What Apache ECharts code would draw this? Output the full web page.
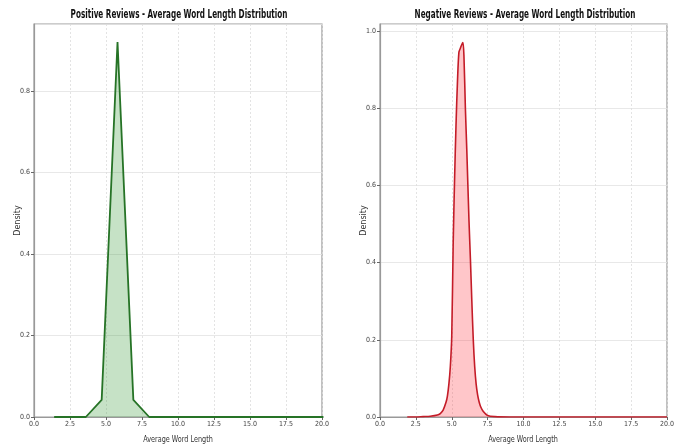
<!DOCTYPE html>
<html>
<head>
<meta charset="utf-8">
<script src="https://cdn.jsdelivr.net/npm/echarts@6/dist/echarts.min.js"></script>
<style>
  html, body { margin: 0; padding: 0; background: #fff; }
  #chart { width: 683px; height: 448px; }
</style>
</head>
<body>
<div id="chart"></div>
<script>
// data
const xTicks = [0, 2.5, 5, 7.5, 10, 12.5, 15, 17.5, 20]

const positiveX = [1.4, 2.5, 3.6, 4.7, 5.8, 6.9, 8.0, 9.1, 10.2, 11.3, 12.4, 13.5, 14.6, 15.7, 16.8, 17.9, 19.0, 20.1]
const positiveY = [0, 0, 0, 0.042, 0.92, 0.042, 0, 0, 0, 0, 0, 0, 0, 0, 0, 0, 0, 0]

const negativeX = [1.9, 2.5, 3.0, 3.5, 4.0, 4.2, 4.4, 4.6, 4.7, 4.8, 4.9, 5.0, 5.1, 5.2, 5.3, 5.4, 5.5, 5.6, 5.7, 5.78, 5.85, 5.95, 6.05, 6.2, 6.3, 6.4, 6.5, 6.6, 6.7, 6.8, 6.9, 7.0, 7.2, 7.5, 8.0, 9.0, 12.0, 16.0, 20.0]
const negativeY = [0, 0, 0.001, 0.002, 0.005, 0.009, 0.018, 0.038, 0.055, 0.085, 0.13, 0.21, 0.45, 0.62, 0.76, 0.87, 0.945, 0.955, 0.965, 0.97, 0.935, 0.8, 0.69, 0.51, 0.41, 0.3, 0.2, 0.13, 0.085, 0.058, 0.04, 0.028, 0.014, 0.004, 0.001, 0, 0, 0, 0]

const pair = (xs, ys) => xs.map((x, i) => [x, ys[i]])

const chart = echarts.init(document.getElementById('chart'))

const labelFont = { fontSize: 7, color: '#444', fontFamily: 'DejaVu Sans Condensed, DejaVu Sans' }
const gridLine = { show: true, lineStyle: { color: '#dcdcdc', type: [2, 2], width: 0.8 } }

const xAxisOf = (gridIndex) => ({
  type: 'value',
  gridIndex,
  min: 0,
  max: 20,
  interval: 2.5,
  axisLine: { show: true, onZero: false, lineStyle: { color: '#999', width: 1.2 } },
  axisTick: { show: true, length: 3, lineStyle: { color: '#666' } },
  axisLabel: { ...labelFont, margin: 4, formatter: (v) => v.toFixed(1) },
  splitLine: gridLine
})

const yAxisOf = (gridIndex, max) => ({
  type: 'value',
  gridIndex,
  min: 0,
  max,
  interval: 0.2,
  name: 'Density',
  nameLocation: 'middle',
  nameGap: 12,
  nameRotate: 90,
  nameMoveOverlap: false,
  nameTextStyle: { fontSize: 8, color: '#333', fontFamily: 'DejaVu Sans' },
  axisLine: { show: true, lineStyle: { color: '#999', width: 1.2 } },
  axisTick: { show: true, length: 3, lineStyle: { color: '#666' } },
  axisLabel: { ...labelFont, margin: 4, showMaxLabel: false, formatter: (v) => v.toFixed(1) },
  splitLine: { show: true, lineStyle: { color: '#e2e2e2', width: 0.8 } }
})

const titleText = (text, x) => ({
  type: 'text',
  x,
  y: 15,
  scaleX: 0.62,
  style: {
    text,
    textAlign: 'center',
    textVerticalAlign: 'middle',
    fontSize: 13,
    fontWeight: 'bold',
    fontFamily: 'DejaVu Sans Condensed, DejaVu Sans',
    fill: '#111'
  }
})

const xNameText = (x) => ({
  type: 'text',
  x,
  y: 440,
  scaleX: 0.72,
  style: {
    text: 'Average Word Length',
    textAlign: 'center',
    textVerticalAlign: 'middle',
    fontSize: 9,
    fontFamily: 'DejaVu Sans',
    fill: '#333'
  }
})

const option = {
  animation: false,
  backgroundColor: '#fff',
  grid: [
    { left: 34, right: 361, top: 24, bottom: 31, show: true, borderColor: '#999', borderWidth: 1.2 },
    { left: 380, right: 16, top: 24, bottom: 31, show: true, borderColor: '#999', borderWidth: 1.2 }
  ],
  xAxis: [xAxisOf(0), xAxisOf(1)],
  yAxis: [yAxisOf(0, 0.964), yAxisOf(1, 1.018)],
  graphic: [
    titleText('Positive Reviews - Average Word Length Distribution', 179),
    titleText('Negative Reviews - Average Word Length Distribution', 525),
    xNameText(178),
    xNameText(523)
  ],
  series: [
    {
      name: 'Positive',
      type: 'line',
      xAxisIndex: 0,
      yAxisIndex: 0,
      data: pair(positiveX, positiveY),
      showSymbol: false,
      clip: true,
      lineStyle: { color: '#267326', width: 1.8 },
      areaStyle: { color: 'rgba(50, 150, 50, 0.4)' }
    },
    {
      name: 'Negative',
      type: 'line',
      xAxisIndex: 1,
      yAxisIndex: 1,
      data: pair(negativeX, negativeY),
      showSymbol: false,
      smooth: 0.3,
      clip: true,
      lineStyle: { color: '#c41c28', width: 1.6 },
      areaStyle: { color: 'rgba(255, 50, 60, 0.4)' }
    }
  ]
}

chart.setOption(option)
</script>
</body>
</html>
